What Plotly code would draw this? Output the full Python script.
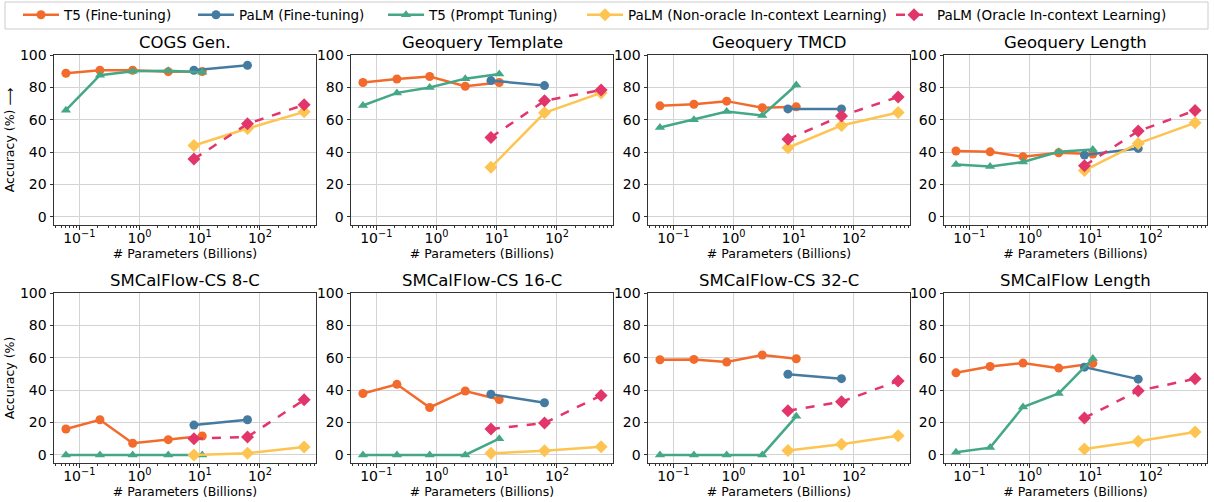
import plotly.graph_objects as go

# ---------------- data ----------------
titles = ["COGS Gen.", "Geoquery Template", "Geoquery TMCD", "Geoquery Length",
          "SMCalFlow-CS 8-C", "SMCalFlow-CS 16-C", "SMCalFlow-CS 32-C", "SMCalFlow Length"]

t5_sizes = [0.06, 0.22, 0.77, 3, 11]
palm_sizes = [8, 62, 540]
palm_ft_sizes = [8, 62]

t5_ft = [
    [88.7, 90.6, 90.6, 89.7, 89.8],
    [83.0, 85.2, 86.7, 80.7, 83.0],
    [68.6, 69.6, 71.5, 67.4, 68.0],
    [40.7, 40.2, 37.2, 39.6, 38.8],
    [16.0, 21.7, 7.2, 9.4, 11.7],
    [37.9, 43.6, 29.3, 39.5, 34.2],
    [58.8, 59.0, 57.4, 61.7, 59.4],
    [50.7, 54.6, 56.7, 53.6, 56.5],
]
palm_ft = [
    [90.6, 93.6],
    [84.2, 81.1],
    [66.7, 66.7],
    [38.2, 42.3],
    [18.4, 21.7],
    [37.5, 32.2],
    [49.8, 47.1],
    [54.2, 46.8],
]
t5_pt = [
    [65.9, 87.5, 89.9, 90.3, 89.3],
    [68.8, 76.6, 79.9, 85.4, 88.3],
    [55.2, 60.0, 65.1, 62.6, 81.5],
    [32.4, 31.2, 33.9, 40.2, 41.7],
    [0.0, 0.0, 0.0, 0.0, 0.0],
    [0.0, 0.0, 0.0, 0.0, 10.0],
    [0.0, 0.0, 0.0, 0.0, 23.8],
    [1.6, 4.5, 29.6, 38.0, 59.5],
]
palm_icl = [
    [44.1, 54.6, 64.9],
    [30.6, 64.3, 76.6],
    [42.7, 56.5, 64.5],
    [28.7, 45.4, 58.1],
    [0.0, 1.0, 4.9],
    [1.0, 2.5, 5.1],
    [2.7, 6.6, 11.9],
    [3.7, 8.4, 14.2],
]
palm_oracle = [
    [35.7, 57.5, 69.2],
    [49.1, 71.7, 78.4],
    [48.0, 62.4, 74.1],
    [31.6, 53.0, 65.7],
    [10.0, 11.1, 34.0],
    [16.0, 19.7, 36.7],
    [27.3, 32.8, 45.7],
    [22.8, 39.6, 47.0],
]

series_names = ["T5 (Fine-tuning)", "PaLM (Fine-tuning)", "T5 (Prompt Tuning)",
                "PaLM (Non-oracle In-context Learning)", "PaLM (Oracle In-context Learning)"]
x_tick_vals = [0.1, 1, 10, 100]
x_tick_text = ["10<sup>−1</sup>", "10<sup>0</sup>", "10<sup>1</sup>", "10<sup>2</sup>"]
y_tick_vals = [0, 20, 40, 60, 80, 100]

# ---------------- styles ----------------
colors = ["#F26B2C", "#457BA0", "#44A886", "#FDC451", "#E2366A"]
symbols = ["circle", "circle", "triangle-up", "diamond", "diamond"]
dashes = ["solid", "solid", "solid", "solid", "dash"]
msize = [9, 9, 9, 10, 10]

W, H = 1214, 502
col_px = [(54, 316), (351, 613), (648, 910), (944, 1207)]
row_px = [(55, 225), (293, 463)]
legend_x_px = [18, 193, 383, 582, 891]   # left edge of each legend entry
legend_cy_px = 15

FONT = "DejaVu Sans"
fig = go.Figure()

minor_vals = []
for d in [0.01, 0.1, 1, 10, 100]:
    for k in range(2, 10):
        minor_vals.append(k * d)

legend_keys = ["legend", "legend2", "legend3", "legend4", "legend5"]

annotations = []
for i in range(8):
    r, c = divmod(i, 4)
    ax = i + 1
    xa = "x" if ax == 1 else f"x{ax}"
    ya = "y" if ax == 1 else f"y{ax}"
    data = [
        (t5_sizes, t5_ft[i]),
        (palm_ft_sizes, palm_ft[i]),
        (t5_sizes, t5_pt[i]),
        (palm_sizes, palm_icl[i]),
        (palm_sizes, palm_oracle[i]),
    ]
    for s, (xs, ys) in enumerate(data):
        fig.add_trace(go.Scatter(
            x=xs, y=ys, xaxis=xa, yaxis=ya, mode="lines+markers",
            name=series_names[s], legendgroup=series_names[s], showlegend=(i == 0),
            legend=legend_keys[s],
            line=dict(color=colors[s], width=2.5, dash=dashes[s]),
            marker=dict(color=colors[s], symbol=symbols[s], size=msize[s]),
        ))
    x0, x1 = col_px[c]
    y0, y1 = row_px[r]
    xdom = [x0 / W, x1 / W]
    ydom = [(H - y1) / H, (H - y0) / H]
    common = dict(showline=True, mirror=True, linecolor="#333333", linewidth=1,
                  showgrid=True, gridcolor="#D3D3D3", gridwidth=1, zeroline=False,
                  ticks="outside", ticklen=3.5, tickcolor="#333333",
                  tickfont=dict(family=FONT, size=14, color="black"))
    fig.layout[f"xaxis{'' if ax == 1 else ax}"] = dict(
        domain=xdom, anchor=ya, type="log", range=[-1.42, 2.93],
        tickvals=x_tick_vals, ticktext=x_tick_text,
        ticklabelposition="outside", ticklabelstandoff=-3,
        minor=dict(ticks="outside", ticklen=2, tickcolor="#333333", tickvals=minor_vals, showgrid=False),
        title=dict(text="# Parameters (Billions)", font=dict(family=FONT, size=12.5, color="black"), standoff=0),
        **common)
    ytitle = None
    if c == 0:
        ytitle = dict(text="Accuracy (%) ⟶" if r == 0 else "Accuracy (%)",
                      font=dict(family=FONT, size=12.5, color="black"), standoff=2)
    fig.layout[f"yaxis{'' if ax == 1 else ax}"] = dict(
        domain=ydom, anchor=xa, range=[-5, 100], tickvals=y_tick_vals,
        title=ytitle, **common)
    annotations.append(dict(
        text=titles[i], xref="paper", yref="paper",
        x=(xdom[0] + xdom[1]) / 2, y=ydom[1], xanchor="center", yanchor="bottom",
        yshift=1, showarrow=False, font=dict(family=FONT, size=16.5, color="black")))

legend_common = dict(orientation="h", yanchor="middle", xanchor="left",
                     y=(H - legend_cy_px) / H, borderwidth=0, bgcolor="rgba(0,0,0,0)",
                     font=dict(family=FONT, size=13.5, color="black"), itemwidth=36)
layout_legends = {}
for k, key in enumerate(legend_keys):
    layout_legends[key] = dict(x=legend_x_px[k] / W, **legend_common)

fig.update_layout(
    width=W, height=H, margin=dict(l=0, r=0, t=0, b=0, autoexpand=False),
    plot_bgcolor="white", paper_bgcolor="white",
    annotations=annotations,
    shapes=[dict(type="rect", xref="paper", yref="paper",
                 x0=5 / W, x1=1208 / W, y0=(H - 29) / H, y1=(H - 2) / H,
                 line=dict(color="#CCCCCC", width=1), fillcolor="rgba(0,0,0,0)")],
    font=dict(family=FONT),
    **layout_legends,
)

fig.write_html("out.html", config={"displayModeBar": False},
               post_script="document.body.style.margin='0';document.body.style.overflow='hidden';")
